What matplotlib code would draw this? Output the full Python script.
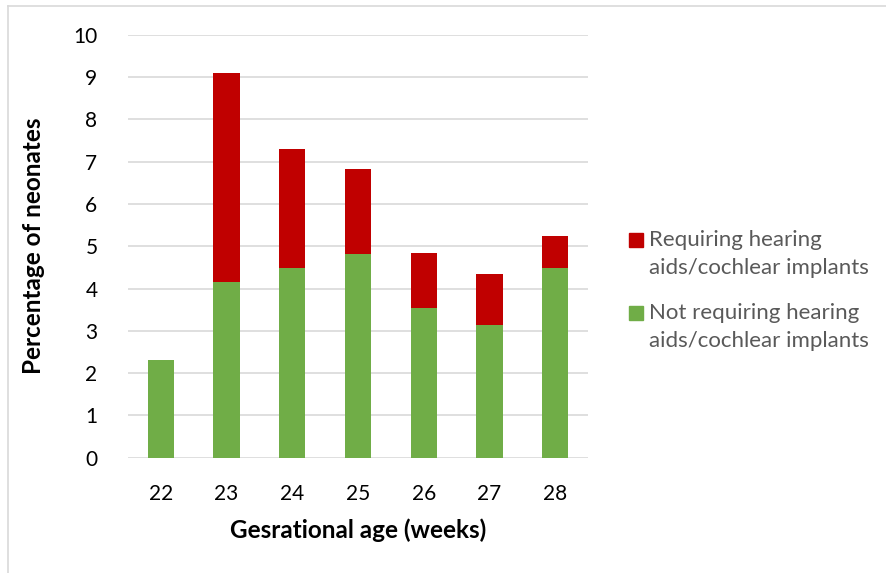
import matplotlib.pyplot as plt
from matplotlib.lines import Line2D
from matplotlib.patches import Rectangle

plt.rcParams['font.family'] = ['Lato', 'DejaVu Sans']

# Gestational age groups and percentages of neonates
weeks = ['22', '23', '24', '25', '26', '27', '28']
not_requiring = [2.32, 4.16, 4.48, 4.81, 3.54, 3.14, 4.48]
requiring = [0.0, 4.93, 2.83, 2.02, 1.29, 1.20, 0.76]
legend_labels = ['Requiring hearing\naids/cochlear implants',
                 'Not requiring hearing\naids/cochlear implants']

green = '#70AD47'
red = '#C00000'
grid_col = '#D9D9D9'

W, H = 886, 573
fig = plt.figure(figsize=(W / 100, H / 100), dpi=100)
ax = fig.add_axes([0.1445, 0.2012, 0.5192, 0.7382])

x = range(len(weeks))
ax.bar(x, not_requiring, width=0.4, color=green, zorder=3)
ax.bar(x, requiring, width=0.4, bottom=not_requiring, color=red, zorder=3)

ax.set_xlim(-0.5, len(weeks) - 0.5)
ax.set_ylim(0, 10)
ax.set_yticks(range(0, 11))
ax.set_xticks(list(x))
ax.set_xticklabels(weeks)
ax.grid(axis='y', color=grid_col, linewidth=1.2, zorder=0)
for s in ax.spines.values():
    s.set_visible(False)
ax.tick_params(axis='both', length=0, labelsize=15, colors='black')
ax.tick_params(axis='y', pad=22)
ax.tick_params(axis='x', pad=19)

ax.set_ylabel('Percentage of neonates', fontsize=17.5, fontweight='bold', labelpad=20)
ax.set_xlabel('Gesrational age (weeks)', fontsize=17.5, fontweight='bold', labelpad=10)

# legend: square marker beside the first line of each two-line label
for label, col, top in zip(legend_labels, [red, green], [233, 306]):
    fig.add_artist(Rectangle((629 / W, 1 - (top + 14) / H), 14 / W, 14 / H,
                             color=col, transform=fig.transFigure))
    fig.text(649 / W, 1 - (top - 3) / H, label, fontsize=16, color='#595959',
             va='top', ha='left', linespacing=1.5)

# light outer frame
fig.add_artist(Line2D([0.009, 1.0], [0.99, 0.99], color='#D9D9D9', lw=1.2,
                      transform=fig.transFigure))
fig.add_artist(Line2D([0.009, 0.009], [0.0, 0.99], color='#D9D9D9', lw=1.2,
                      transform=fig.transFigure))

fig.savefig('out.png', dpi=100)
